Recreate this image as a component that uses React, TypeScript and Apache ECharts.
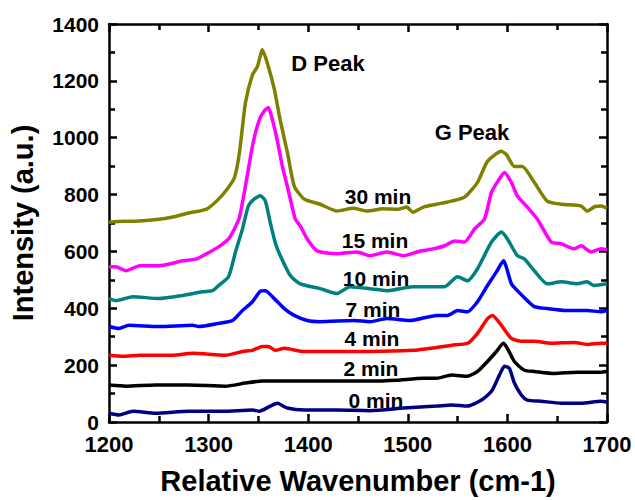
import React, { useEffect, useRef } from "react";
import * as echarts from "echarts";

// ---- data (wavenumber, intensity) ----
const x30 = [1200,1215,1231,1248,1264,1280,1298,1310,1320,1326,1331,1337,1344,1349,1354,1360,1366,1372,1379,1386,1396,1412,1429,1445,1459,1475,1490,1499,1505,1515,1529,1544,1557,1570,1580,1594,1599,1607,1615,1627,1640,1654,1674,1680,1688,1694,1700];
const y30 = [703,706,707,712,721,735,749,784,826,860,948,1123,1221,1250,1309,1250,1170,1060,950,830,784,766,742,752,742,750,748,756,738,755,766,777,791,843,917,952,941,899,899,843,777,766,760,742,758,760,752];

const x15 = [1200,1207,1217,1231,1250,1274,1288,1298,1310,1320,1326,1331,1337,1344,1351,1357,1360,1364,1369,1374,1379,1387,1392,1399,1409,1429,1449,1462,1479,1496,1509,1525,1537,1547,1557,1567,1577,1584,1591,1597,1604,1610,1620,1630,1634,1644,1654,1667,1674,1684,1694,1700];
const y15 = [546,546,532,550,550,567,574,592,616,644,680,720,830,970,1064,1099,1106,1064,990,900,830,714,690,644,602,592,598,585,598,585,598,609,620,637,633,679,714,808,850,878,843,795,756,714,690,633,627,609,620,598,609,605];

const x10 = [1200,1207,1224,1250,1274,1294,1304,1310,1320,1327,1334,1340,1346,1352,1357,1362,1367,1372,1382,1392,1412,1429,1442,1462,1479,1505,1522,1537,1550,1560,1570,1584,1594,1600,1610,1617,1627,1640,1654,1670,1680,1687,1700];
const y10 = [434,427,441,434,445,458,462,480,511,598,679,760,785,796,777,700,630,585,515,486,469,452,476,469,462,476,476,476,511,497,539,633,668,644,585,574,532,486,493,486,493,480,486];

const x7 = [1200,1210,1220,1250,1284,1290,1310,1324,1334,1344,1352,1357,1364,1376,1386,1399,1412,1446,1462,1479,1502,1529,1540,1550,1560,1570,1580,1589,1596,1604,1610,1620,1627,1640,1660,1680,1694,1700];
const y7 = [336,329,340,336,340,336,347,357,392,423,460,462,441,399,375,357,353,357,353,364,357,375,375,392,388,423,480,528,567,486,462,427,406,399,392,392,388,392];

const x4 = [1200,1214,1231,1264,1284,1317,1334,1344,1354,1360,1367,1376,1396,1429,1462,1505,1529,1544,1560,1570,1580,1585,1594,1604,1614,1627,1644,1667,1680,1694,1700];
const y4 = [235,231,235,235,242,235,248,252,266,266,252,259,248,248,248,252,262,270,277,312,364,375,340,294,284,284,277,280,273,277,277];

const x2 = [1200,1217,1247,1280,1317,1337,1354,1367,1396,1429,1462,1489,1515,1529,1544,1560,1570,1580,1589,1596,1600,1607,1617,1627,1647,1670,1694,1700];
const y2 = [130,126,130,130,126,137,144,144,144,144,144,147,154,154,165,161,178,213,248,277,259,213,182,178,171,175,175,178];

const x0 = [1200,1210,1224,1247,1280,1314,1344,1351,1362,1369,1379,1396,1429,1462,1496,1529,1544,1560,1574,1584,1592,1597,1602,1607,1614,1620,1634,1654,1674,1694,1700];
const y0 = [31,25,38,31,38,38,42,38,56,66,49,42,42,40,49,56,60,56,77,108,165,196,189,137,95,77,73,66,66,73,70];

const seriesNames = ["30 min", "15 min", "10 min", "7 min", "4 min", "2 min", "0 min"];
const seriesX = [x30, x15, x10, x7, x4, x2, x0];
const seriesY = [y30, y15, y10, y7, y4, y2, y0];
const seriesColors = ["#808000", "#FF00FF", "#008080", "#0000FF", "#FF0000", "#000000", "#000080"];

const xTicks = { min: 1200, max: 1700, interval: 100 };
const yTicks = { min: 0, max: 1400, interval: 200 };

const FONT = '"Liberation Sans", Arial, Helvetica, sans-serif';

// annotation labels
const labelTexts = ["D Peak", "G Peak", "30 min", "15 min", "10 min", "7 min", "4 min", "2 min", "0 min"];
const labelPos: [number, number, number][] = [
  [328, 63, 22], [472, 132, 22], [378, 196, 21], [375, 240, 21], [376, 278, 21],
  [373, 309, 21], [372, 338, 21], [371, 368, 21], [376, 400, 21],
];

export default function App() {
  const ref = useRef<HTMLDivElement>(null);
  useEffect(() => {
    if (!ref.current) return;
    const chart = echarts.init(ref.current, undefined, { renderer: "svg" });
    const axisCommon = {
      axisLine: { show: true, onZero: false, lineStyle: { color: "#000", width: 2.5 } },
      axisTick: { show: true, inside: true, length: 8, lineStyle: { color: "#000", width: 2.5 } },
      minorTick: { show: true, splitNumber: 2, length: 6, lineStyle: { color: "#000", width: 2.5 } },
      splitLine: { show: false },
      minorSplitLine: { show: false },
    };
    const plain = (v: number) => String(v);
    chart.setOption({
      animation: false,
      backgroundColor: "#fff",
      grid: { left: 107, right: 28, top: 24, bottom: 76 },
      xAxis: [
        {
          type: "value", ...xTicks, position: "bottom", ...axisCommon,
          axisLabel: { color: "#000", fontFamily: FONT, fontWeight: "bold", fontSize: 22, margin: 11, formatter: plain },
          name: "Relative Wavenumber (cm-1)", nameLocation: "middle", nameGap: 44,
          nameTextStyle: { color: "#000", fontFamily: FONT, fontWeight: "bold", fontSize: 29 },
        },
        { type: "value", ...xTicks, position: "top", ...axisCommon, axisLabel: { show: false } },
      ],
      yAxis: [
        {
          type: "value", ...yTicks, position: "left", ...axisCommon,
          axisLabel: { color: "#000", fontFamily: FONT, fontWeight: "bold", fontSize: 21, margin: 10, formatter: plain },
          name: "Intensity (a.u.)", nameLocation: "middle", nameGap: 72,
          nameTextStyle: { color: "#000", fontFamily: FONT, fontWeight: "bold", fontSize: 29 },
        },
        { type: "value", ...yTicks, position: "right", ...axisCommon, axisLabel: { show: false } },
      ],
      series: seriesNames.map((name, i) => ({
        name,
        type: "line",
        xAxisIndex: 0,
        yAxisIndex: 0,
        showSymbol: false,
        symbol: "none",
        smooth: 0.2,
        lineStyle: { color: seriesColors[i], width: 3.5 },
        data: seriesX[i].map((x, j) => [x, seriesY[i][j]]),
        z: 10 - i,
      })),
      graphic: labelTexts.map((t, i) => ({
        type: "text",
        x: labelPos[i][0],
        y: labelPos[i][1],
        z: 100,
        style: {
          text: t,
          fill: "#000",
          font: `bold ${labelPos[i][2]}px ${FONT}`,
          align: "center",
          verticalAlign: "middle",
        },
      })),
    });
    return () => chart.dispose();
  }, []);
  return (
    <div
      ref={ref}
      style={{ position: "fixed", left: 0, top: 0, width: 635, height: 500, background: "#fff" }}
    />
  );
}
